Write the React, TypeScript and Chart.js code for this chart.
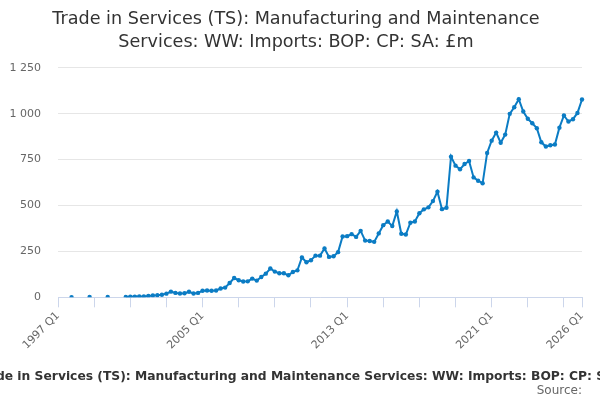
import { useEffect, useRef } from "react";
import { Chart, registerables } from "chart.js";

Chart.register(...registerables);

// categories: 1997 Q1 .. 2026 Q1
const startYear = 1997;
const endYear = 2026;
const quarters: string[] = [];
for (let y = startYear; y <= endYear; y++) {
  for (let q = 1; q <= 4; q++) {
    if (y === endYear && q > 1) break;
    quarters.push(`${y} Q${q}`);
  }
}

// which categories get a visible label
const labelledQuarters = ["1997 Q1", "2005 Q1", "2013 Q1", "2021 Q1", "2026 Q1"];

// £m (null = no value)
const earlyImports: (number | null)[] = [
  null, null, null, 1, null, null, null, 2, null, null, null, 2, null, null, null,
];
const imports2000s: number[] = [
  2, 3, 4, 5, 5, 7, 10, 11, 14, 20, 31, 24, 21, 22, 30, 21, 24, 36, 37, 36, 37, 48, 53,
];
const imports2010s: number[] = [
  78, 105, 93, 86, 87, 102, 91, 111, 129, 157, 140, 131, 131, 120, 138, 147, 217, 191,
  202, 227, 227, 266, 220, 224, 246, 331, 333, 344, 329, 362, 309, 307, 302, 348, 393,
  413, 388, 468, 346, 342, 406, 413,
];
const importsRecent: number[] = [
  458, 479, 490, 524, 575, 480, 488, 766, 717, 697, 726, 742, 653, 635, 621, 786, 853,
  897, 842, 886, 999, 1035, 1079, 1012, 972, 948, 921, 844, 821, 828, 832, 924, 990,
  957, 970, 1004, 1077,
];

const yTicks = [0, 250, 500, 750, 1000, 1250];

const seriesTitle =
  "Trade in Services (TS): Manufacturing and Maintenance Services: WW: Imports: BOP: CP: SA: £m";

const FONT = "'DejaVu Sans', sans-serif";
const X_TITLE_SIZE = 12.3;

// the axis title is wider than the canvas; draw it unsqueezed (Chart.js would shrink it)
const axisTitlePlugin = {
  id: "wideAxisTitle",
  afterDraw(chart: any) {
    const x = chart.scales.x;
    const { ctx } = chart;
    ctx.save();
    ctx.font = `bold ${X_TITLE_SIZE}px ${FONT}`;
    ctx.fillStyle = "#333333";
    ctx.textAlign = "center";
    ctx.textBaseline = "middle";
    ctx.fillText(seriesTitle, chart.width / 2 + 10, x.bottom - 7);
    ctx.restore();
  },
};

export default function App() {
  const canvasRef = useRef<HTMLCanvasElement | null>(null);

  useEffect(() => {
    if (!canvasRef.current) return;
    const values = [...earlyImports, ...imports2000s, ...imports2010s, ...importsRecent];

    const chart = new Chart(canvasRef.current, {
      type: "line",
      data: {
        labels: quarters,
        datasets: [
          {
            label: seriesTitle,
            data: values,
            borderColor: "#0b7cc4",
            backgroundColor: "#0b7cc4",
            borderWidth: 2,
            pointRadius: 2.2,
            pointBorderWidth: 0,
            tension: 0,
          },
        ],
      },
      plugins: [axisTitlePlugin],
      options: {
        animation: false,
        responsive: true,
        maintainAspectRatio: false,
        layout: { padding: { left: 10, right: 18, bottom: 2 } },
        plugins: {
          legend: { display: false },
          tooltip: { enabled: false },
          title: {
            display: true,
            text: [
              "Trade in Services (TS): Manufacturing and Maintenance",
              "Services: WW: Imports: BOP: CP: SA: £m",
            ],
            color: "#333333",
            font: { family: FONT, size: 17.6, weight: "normal", lineHeight: 1.3 },
            padding: { top: 8, bottom: 14 },
          },
          subtitle: {
            display: true,
            position: "bottom",
            align: "end",
            text: "Source:",
            color: "#666666",
            font: { family: FONT, size: 12 },
            padding: { top: 0, bottom: 0 },
          },
        },
        scales: {
          x: {
            offset: false,
            border: { color: "#ccd6eb" },
            grid: {
              drawOnChartArea: false,
              drawTicks: true,
              tickLength: 10,
              tickColor: (ctx: any) =>
                ctx.index % 8 === 0 || ctx.index === quarters.length - 1
                  ? "#ccd6eb"
                  : "rgba(0,0,0,0)",
            },
            ticks: {
              autoSkip: false,
              minRotation: 45,
              maxRotation: 45,
              color: "#666666",
              font: { family: FONT, size: 11 },
              padding: 2,
              callback: (_v: any, i: number) =>
                labelledQuarters.includes(quarters[i]) ? quarters[i] : "",
            },
            afterFit: (axis: any) => {
              axis.paddingLeft = 0;
              axis.paddingRight = 0;
            },
            title: {
              // space holder; the text itself is drawn by axisTitlePlugin
              display: true,
              text: " ",
              color: "rgba(0,0,0,0)",
              font: { family: FONT, size: 13, weight: "bold" },
              padding: { top: 14, bottom: 0 },
            },
          },
          y: {
            min: yTicks[0],
            max: yTicks[yTicks.length - 1],
            border: { display: false },
            grid: { color: "#e6e6e6", drawTicks: false },
            afterBuildTicks: (axis: any) => {
              axis.ticks = yTicks.map((v) => ({ value: v }));
            },
            afterFit: (axis: any) => {
              axis.width = 48;
            },
            ticks: {
              color: "#666666",
              font: { family: FONT, size: 11 },
              padding: 17,
              callback: (v: any) => String(v).replace(/\B(?=(\d{3})+(?!\d))/g, " "),
            },
          },
        },
      },
    });

    return () => {
      chart.destroy();
    };
  }, []);

  return (
    <div style={{ position: "absolute", left: 0, top: 0, width: 600, height: 400 }}>
      <canvas ref={canvasRef}></canvas>
    </div>
  );
}
